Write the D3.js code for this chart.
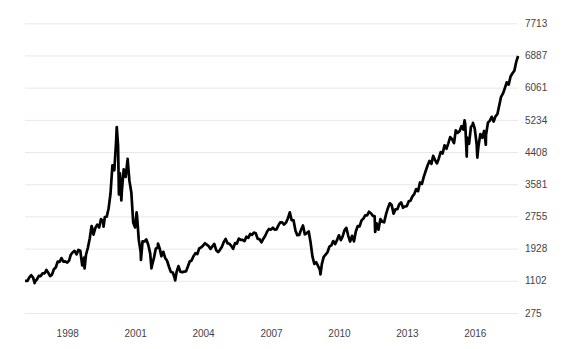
<!DOCTYPE html>
<html lang="en">

<head>
    <meta charset="UTF-8">
    <title>Index history</title>
    <script src="https://d3js.org/d3.v7.min.js"></script>
    <style>
        body {
            margin: 0;
            background: #fff;
        }

        text {
            font-family: "Liberation Sans", Arial, sans-serif;
            font-size: 10px;
            fill: #444;
        }
    </style>
</head>

<body>
    <script>
        // Monthly closes, first month is Feb 1996
        const firstMonth = "1996-02";
        const closes = [
            1100, 1101, 1191, 1243, 1185, 1081, 1141, 1227, 1222, 1293, 1291,
            1380, 1310, 1222, 1261, 1400, 1443, 1594, 1587, 1686, 1594, 1601, 1570,
            1620, 1771, 1835, 1868, 1779, 1895, 1872, 1499, 1694, 1771, 1950, 2193,
            2506, 2288, 2461, 2543, 2471, 2686, 2638, 2739, 2746, 2966, 3336, 4069,
            3940, 4697, 4573, 3861, 3401, 3966, 3767, 4206, 3673, 3370, 2598, 2471,
            2773, 2152, 1840, 2116, 2110, 2161, 2027, 1805, 1499, 1690, 1931, 1950,
            1934, 1731, 1845, 1688, 1616, 1463, 1328, 1315, 1172, 1330, 1479, 1335,
            1321, 1337, 1341, 1464, 1596, 1623, 1735, 1810, 1787, 1932, 1960, 2003,
            2066, 2030, 1994, 1920, 1987, 2048, 1887, 1838, 1897, 1975, 2097, 2175,
            2062, 2052, 1999, 1922, 2068, 2057, 2185, 2152, 2152, 2120, 2233, 2205,
            2306, 2281, 2340, 2323, 2179, 2172, 2091, 2184, 2258, 2367, 2432, 2415,
            2464, 2416, 2422, 2525, 2605, 2603, 2546, 2596, 2702, 2859, 2661, 2652,
            2389, 2271, 2279, 2413, 2523, 2293, 2326, 2368, 2092, 1721, 1536, 1577,
            1476, 1378, 1529, 1717, 1774, 1835, 1979, 2009, 2122, 2045, 2145, 2269,
            2147, 2238, 2398, 2461, 2257, 2109, 2255, 2114, 2369, 2507, 2498, 2653,
            2700, 2782, 2781, 2874, 2835, 2774, 2756, 2579, 2415, 2684, 2620, 2605,
            2814, 2967, 3092, 3046, 2827, 2935, 2940, 3067, 3116, 2977, 3010, 3020,
            3142, 3160, 3268, 3329, 3456, 3403, 3626, 3590, 3771, 3920, 4060, 4177,
            4104, 4308, 4199, 4115, 4243, 4408, 4370, 4580, 4493, 4631, 4792, 4736,
            4635, 4964, 4901, 4941, 5070, 4987, 5128, 4777, 4620, 5054, 5109, 5007,
            4614, 4558, 4870, 4775, 4948, 4843, 5162, 5213, 5312, 5189, 5324, 5383,
            5615, 5825, 5912, 6048, 6199, 6140, 6348, 6429, 6496, 6728, 6874
        ];

        // Intra-month highs and lows that stand out in the picture
        const swingDates = [
            "1996-07-24", "1998-10-08", "1999-01-28", "1999-08-10", "2000-03-10", "2000-04-14",
            "2000-05-23", "2000-09-01", "2001-01-24", "2001-04-04", "2001-09-21",
            "2002-01-04", "2002-10-09", "2007-10-31", "2009-03-09", "2011-08-08",
            "2015-07-20", "2015-08-24", "2015-12-02", "2016-02-11", "2016-06-27"
        ];
        const swingValues = [
            1042, 1419, 2505, 2490, 5048, 3321,
            3164, 4234, 2859, 1638, 1423,
            2059, 1114, 2859, 1268, 2357,
            5219, 4292, 5156, 4266, 4595
        ];

        const yTicks = [275, 1102, 1928, 2755, 3581, 4408, 5234, 6061, 6887, 7713];
        const xTickYears = [1998, 2001, 2004, 2007, 2010, 2013, 2016];

        const width = 573, height = 349;
        const parse = d3.timeParse("%Y-%m-%d");
        const start = d3.timeParse("%Y-%m")(firstMonth);

        let points = closes.map((v, i) => ({ date: d3.timeDay.offset(d3.timeMonth.offset(start, i + 1), -1), value: v }));
        points[0].date = parse("1996-02-20");
        swingDates.forEach((d, i) => points.push({ date: parse(d), value: swingValues[i] }));
        points.sort((a, b) => a.date - b.date);

        const x = d3.scaleTime()
            .domain([parse("1996-02-20"), parse("2017-11-28")])
            .range([25, 518]);

        const y = d3.scaleLinear()
            .domain([275, 7713])
            .range([313, 23.3]);

        const svg = d3.select("body")
            .append("svg")
            .attr("width", width)
            .attr("height", height);

        // Grid lines with labels on the right
        const yAxis = svg.append("g")
            .attr("transform", "translate(518,0)")
            .call(d3.axisRight(y).tickValues(yTicks).tickSize(-493).tickPadding(7).tickFormat(d3.format("d")));
        yAxis.select(".domain").remove();
        yAxis.selectAll(".tick line").attr("stroke", "#e8e8e8");

        const xAxis = svg.append("g")
            .attr("transform", "translate(0,327)")
            .call(d3.axisBottom(x).tickValues(xTickYears.map(yr => new Date(yr, 0, 1))).tickSize(0).tickFormat(d3.timeFormat("%Y")));
        xAxis.select(".domain").remove();

        svg.selectAll(".tick text")
            .attr("fill", "#444")
            .style("font-size", "10px")
            .style("font-family", "'Liberation Sans', Arial, sans-serif");

        const line = d3.line()
            .x(d => x(d.date))
            .y(d => y(d.value));

        svg.append("path")
            .datum(points)
            .attr("fill", "none")
            .attr("stroke", "#000")
            .attr("stroke-width", 2.7)
            .attr("stroke-linejoin", "round")
            .attr("d", line);
    </script>
</body>

</html>
